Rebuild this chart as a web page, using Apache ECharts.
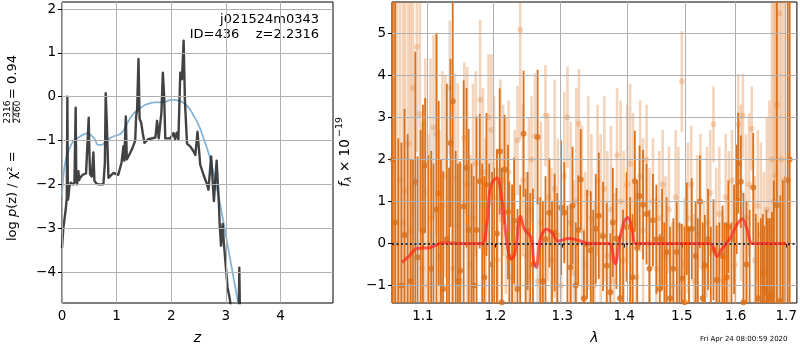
<!DOCTYPE html>
<html>
<head>
<meta charset="utf-8">
<script src="https://cdn.jsdelivr.net/npm/echarts@6/dist/echarts.min.js"></script>
<style>
  html, body { margin: 0; padding: 0; background: #fff; }
  #chart { width: 800px; height: 350px; }
</style>
</head>
<body>
<div id="chart"></div>
<script>
// p(z) panel: fine-grid log p(z) (dark) and smoothed prior curve (blue)
var pzZ = [0, 0.024, 0.07, 0.088, 0.098, 0.108, 0.116, 0.135, 0.16, 0.19,
  0.208, 0.228, 0.25, 0.262, 0.275, 0.30, 0.315, 0.33, 0.38, 0.44,
  0.475, 0.489, 0.50, 0.514, 0.545, 0.565, 0.575, 0.593, 0.63, 0.667,
  0.758, 0.785, 0.80, 0.82, 0.85, 0.94, 1.03, 1.09, 1.125, 1.14,
  1.168, 1.186, 1.24, 1.28, 1.34, 1.357, 1.375, 1.40, 1.42, 1.45,
  1.48, 1.51, 1.58, 1.71, 1.74, 1.77, 1.82, 1.846, 1.87, 1.89,
  1.98, 2.04, 2.07, 2.10, 2.13, 2.165, 2.196, 2.226, 2.25, 2.288,
  2.35, 2.41, 2.44, 2.48, 2.53, 2.59, 2.655, 2.68, 2.73, 2.78,
  2.83, 2.87, 2.886, 2.91, 2.94, 2.96, 2.99, 3.03, 3.07, 3.10,
  3.20, 3.235, 3.245, 3.26, 3.32];
var pzLogP = [-3.45, -3.0, -2.55, -2.3, 0.0, -2.35, -2.3, -2.05, -1.96, -1.95,
  -2.0, -1.95, -0.25, -1.9, -2.0, -1.7, -1.9, -1.85, -1.78, -1.75,
  -1.76, -0.48, -1.2, -1.77, -1.82, -1.85, -1.27, -1.92, -1.98, -2.0,
  -2.0, -1.5, 0.08, -0.6, -1.85, -1.74, -1.78, -1.5, -1.13, -1.46,
  -0.45, -1.43, -1.3, -1.2, -1.0, -0.45, -0.3, 0.86, -0.5, -0.6,
  -0.85, -1.05, -0.97, -0.93, -0.55, -0.95, -0.35, 0.55, 0.0, -0.95,
  -0.95, -0.83, -0.97, -0.82, -0.98, 0.55, 0.4, 1.28, -0.1, -1.07,
  -1.14, -1.25, -1.33, -0.8, -1.55, -1.78, -2.0, -2.12, -1.36, -2.38,
  -1.46, -2.4, -2.91, -3.4, -2.9, -3.3, -3.75, -4.35, -4.6, -4.9,
  -5.3, -5.0, -3.9, -5.2, -6.0];

var smZ = [0, 0.03, 0.06, 0.1, 0.15, 0.2, 0.3, 0.4, 0.47, 0.53,
  0.6, 0.66, 0.72, 0.8, 0.9, 1.0, 1.08, 1.15, 1.22, 1.3,
  1.4, 1.5, 1.6, 1.7, 1.8, 1.9, 2.0, 2.1, 2.2, 2.3,
  2.4, 2.5, 2.6, 2.7, 2.8, 2.9, 3.0, 3.1, 3.2, 3.26];
var smLogP = [-2.25, -1.75, -1.5, -1.3, -1.15, -1.03, -0.93, -0.86, -0.83, -0.88,
  -0.97, -1.1, -1.1, -1.03, -0.93, -0.88, -0.84, -0.72, -0.55, -0.4,
  -0.29, -0.2, -0.15, -0.13, -0.13, -0.11, -0.07, -0.08, -0.12, -0.22,
  -0.41, -0.64, -0.98, -1.36, -1.89, -2.49, -3.17, -3.86, -4.54, -4.95];

// spectrum panel: dark orange points (lam, flux, err)
var specLam = [1.061, 1.064, 1.068, 1.072, 1.076, 1.080, 1.084, 1.087, 1.090, 1.093,
  1.097, 1.100, 1.103, 1.107, 1.111, 1.114, 1.118, 1.121, 1.124, 1.127,
  1.132, 1.135, 1.137, 1.140, 1.144, 1.147, 1.150, 1.155, 1.159, 1.162,
  1.166, 1.169, 1.173, 1.1775, 1.181, 1.184, 1.187, 1.191, 1.195, 1.198,
  1.202, 1.206, 1.209, 1.213, 1.218, 1.220, 1.224, 1.227, 1.232, 1.236,
  1.241, 1.244, 1.247, 1.251, 1.255, 1.262, 1.266, 1.270, 1.274, 1.280,
  1.284, 1.288, 1.292, 1.298, 1.303, 1.308, 1.313, 1.316, 1.321, 1.325,
  1.329, 1.334, 1.339, 1.345, 1.349, 1.353, 1.358, 1.365, 1.371, 1.377,
  1.381, 1.387, 1.393, 1.398, 1.404, 1.410, 1.414, 1.418, 1.422, 1.426,
  1.432, 1.438, 1.443, 1.449, 1.455, 1.461, 1.465, 1.469, 1.473, 1.479,
  1.485, 1.491, 1.496, 1.500, 1.505, 1.509, 1.513, 1.518, 1.525, 1.529,
  1.533, 1.538, 1.542, 1.548, 1.553, 1.558, 1.564, 1.569, 1.575, 1.579,
  1.583, 1.586, 1.592, 1.597, 1.602, 1.605, 1.610, 1.615, 1.621, 1.627,
  1.634, 1.639, 1.644, 1.649, 1.653, 1.656, 1.660, 1.663, 1.667, 1.671,
  1.675, 1.681, 1.688, 1.693, 1.698, 1.703, 1.707];
var specFlux = [2.0, 0.5, -2.0, -1.0, 0.2, -1.6, -0.9, -2.0, 1.46, -0.33,
  -1.5, 0.3, 1.86, -1.9, -0.6, -2.0, 0.81, 1.19, -1.6, -1.08,
  0.1, -1.8, 2.39, 3.38, -1.7, -0.9, -0.65, 0.88, 1.8, 0.32,
  -1.7, -1.0, 0.32, 1.48, -1.5, -0.8, 1.4, -1.7, -0.5, -1.6,
  0.24, 2.19, -1.4, 1.76, 0.75, -0.33, -1.6, 0.54, -1.08, -1.8,
  2.61, -1.5, 0.3, -1.7, -0.5, 2.53, -1.6, -0.9, 0.1, 0.73,
  -1.5, 0.26, -1.7, 0.85, 0.73, -1.6, -0.57, 0.9, -1.0, 0.32,
  1.52, -1.3, -0.02, -0.16, -1.6, 0.35, 0.66, 0.17, -0.53, -1.16,
  0.5, 0.12, -1.3, -1.6, 0.39, -1.5, -0.8, 1.48, -0.1, 1.13,
  0.92, 0.7, -0.6, 0.55, 0.1, -1.08, 0.1, -1.6, -0.2, -1.3,
  -0.6, -0.2, -1.5, -0.83, -1.4, 0.35, -1.6, 0.35, -0.3, -1.5,
  1.0, -1.3, -0.52, 0.1, -1.6, -0.15, -0.87, -1.5, -0.3, -1.7,
  -0.8, 0.4, -1.5, 0.1, 1.05, 1.91, 1.47, -1.4, -0.5, -1.6,
  1.33, -1.5, -1.3, -1.7, -0.7, -1.08, -1.8, -1.2, -1.3, -1.25,
  -2.0, 0.91, -1.36, -1.5, -1.8, 1.5, 2.0];
var specErr = [9, 9, 4.5, 3.4, 3.0, 4.2, 2.9, 4.0, 3.1, 2.4,
  4.2, 3.0, 1.6, 4.0, 2.8, 3.9, 4.2, 2.2, 3.6, 2.8,
  3.7, 3.6, 2.0, 9, 3.9, 2.8, 2.6, 3.0, 1.9, 2.4,
  3.6, 2.6, 2.7, 1.6, 3.4, 2.4, 1.7, 3.6, 2.2, 3.4,
  2.0, 1.5, 3.2, 1.3, 1.6, 1.8, 3.0, 1.5, 1.9, 3.2,
  1.5, 2.8, 1.4, 2.9, 1.8, 1.6, 2.7, 1.9, 1.5, 1.3,
  2.5, 1.4, 2.9, 1.6, 1.2, 2.5, 1.5, 1.4, 1.5, 1.3,
  1.2, 1.6, 1.3, 1.4, 2.4, 1.3, 1.5, 1.3, 1.5, 1.4,
  1.3, 1.2, 1.5, 2.4, 1.3, 2.6, 1.5, 1.2, 1.6, 1.2,
  1.3, 1.2, 1.4, 1.1, 1.3, 1.3, 1.2, 2.1, 1.3, 1.7,
  1.2, 1.2, 2.0, 1.3, 1.8, 1.1, 2.0, 1.2, 1.3, 2.1,
  1.1, 1.8, 1.2, 1.2, 2.0, 1.2, 1.3, 2.0, 1.2, 2.2,
  1.3, 1.1, 2.0, 1.3, 1.3, 1.2, 1.1, 2.6, 1.5, 2.4,
  1.3, 2.2, 1.8, 2.3, 1.4, 1.5, 2.6, 1.8, 1.9, 2.0,
  3.5, 9, 2.5, 3.0, 3.4, 9, 9];

// spectrum panel: light orange points (second set)
var spec2Lam = [1.062, 1.066, 1.070, 1.074, 1.077, 1.081, 1.084, 1.087, 1.092, 1.096,
  1.099, 1.103, 1.107, 1.110, 1.114, 1.118, 1.122, 1.126, 1.130, 1.136,
  1.139, 1.143, 1.147, 1.151, 1.156, 1.160, 1.164, 1.168, 1.172, 1.178,
  1.182, 1.186, 1.190, 1.194, 1.198, 1.203, 1.207, 1.211, 1.215, 1.219,
  1.224, 1.228, 1.232, 1.236, 1.240, 1.245, 1.249, 1.253, 1.258, 1.262,
  1.267, 1.274, 1.278, 1.283, 1.288, 1.293, 1.298, 1.303, 1.308, 1.313,
  1.318, 1.322, 1.326, 1.331, 1.336, 1.341, 1.346, 1.351, 1.356, 1.361,
  1.367, 1.372, 1.378, 1.383, 1.388, 1.394, 1.399, 1.405, 1.410, 1.415,
  1.421, 1.427, 1.432, 1.438, 1.443, 1.449, 1.455, 1.460, 1.466, 1.471,
  1.477, 1.483, 1.489, 1.494, 1.500, 1.505, 1.511, 1.517, 1.522, 1.528,
  1.534, 1.540, 1.546, 1.552, 1.558, 1.563, 1.569, 1.575, 1.581, 1.587,
  1.593, 1.599, 1.605, 1.610, 1.614, 1.620, 1.626, 1.631, 1.637, 1.643,
  1.649, 1.655, 1.661, 1.666, 1.671, 1.675, 1.678, 1.681, 1.686, 1.690,
  1.695];
var spec2Flux = [1.0, 0.0, 1.5, 0.5, 1.25, 2.38, 0.3, 3.7, 4.67, 3.08,
  -0.6, 1.2, -1.0, 0.6, 2.76, 2.6, -0.3, 0.9, 1.6, 3.7,
  -0.6, 1.55, 0.4, -0.9, 2.51, 1.4, -0.5, 0.6, 1.9, 3.42,
  1.7, -0.1, 3.0, 2.7, 1.1, -0.4, 2.2, 1.5, 0.9, 1.7,
  -0.8, 0.4, 2.45, 5.08, 1.5, -0.3, 0.8, 2.0, 2.55, -0.9,
  0.5, 3.04, 1.1, -0.4, 1.3, 0.2, -1.0, 1.6, 3.0, 0.5,
  -0.7, 1.0, 2.85, 0.3, -0.5, 1.2, 0.6, -1.0, 1.5, 0.2,
  1.3, -0.3, 0.8, -0.9, 2.1, 1.0, -0.4, 1.4, 1.9, 0.5,
  -0.8, 1.6, 0.3, 2.0, 0.0, 1.0, -0.6, 0.6, 1.4, -0.3,
  0.8, -1.0, 1.1, 0.4, 3.85, -0.5, 0.6, 1.4, -0.9, 0.2,
  1.0, -0.6, 0.5, 1.2, 2.83, -0.2, 0.7, -0.9, 1.1, 0.3,
  1.5, -0.5, 2.83, 1.2, 3.04, 0.6, 1.4, 2.73, -0.4, 0.9,
  0.2, -0.6, 0.8, 0.4, 2.0, 1.0, 1.62, 3.3, 5.47, 2.0,
  1.5];
var spec2Err = [9, 9, 9, 6, 5.5, 4, 6, 3, 2.5, 2.8,
  3.5, 3.2, 3.6, 3.8, 2.2, 2.4, 3.0, 3.2, 2.4, 1.6,
  3.1, 2.5, 3.4, 2.8, 1.8, 2.8, 2.6, 3.2, 2.2, 1.9,
  2.0, 2.6, 1.5, 1.8, 2.4, 2.2, 1.7, 1.8, 2.1, 1.7,
  2.1, 2.3, 1.3, 2.6, 1.8, 2.0, 2.2, 1.5, 1.5, 2.0,
  2.4, 1.2, 2.0, 2.2, 2.6, 2.3, 2.0, 2.0, 1.2, 2.4,
  2.2, 2.7, 1.3, 2.5, 2.2, 2.3, 2.0, 2.0, 1.8, 2.4,
  2.2, 2.5, 2.0, 2.1, 1.6, 2.4, 2.6, 1.9, 1.9, 2.6,
  2.0, 1.8, 2.2, 1.3, 1.8, 1.5, 1.7, 1.6, 1.3, 1.9,
  1.5, 1.5, 1.6, 1.9, 1.2, 1.6, 1.8, 1.4, 1.6, 1.9,
  1.6, 1.6, 1.8, 1.5, 0.9, 2.0, 1.6, 1.7, 1.5, 1.9,
  1.2, 1.8, 1.2, 2.1, 1.0, 2.0, 1.7, 1.0, 2.0, 1.8,
  2.2, 2.3, 2.2, 3.0, 3.8, 6, 9, 9, 9, 9,
  9];

// best-fit model (red)
var modelLam = [1.0727, 1.082, 1.092, 1.1095, 1.1267, 1.15, 1.17, 1.181, 1.188, 1.193,
  1.202, 1.209, 1.2165, 1.2225, 1.228, 1.2365, 1.242, 1.252, 1.2565, 1.260,
  1.266, 1.2755, 1.284, 1.293, 1.31, 1.326, 1.342, 1.36, 1.375, 1.385,
  1.392, 1.4005, 1.406, 1.414, 1.4196, 1.45, 1.5, 1.552, 1.5645, 1.574,
  1.590, 1.603, 1.613, 1.622, 1.632, 1.66, 1.6995];
var modelFlux = [-0.45, -0.3, -0.12, -0.1, 0.02, 0.0, 0.0, 0.0, 0.54, 1.37,
  1.56, 1.05, 0.02, -0.37, -0.25, 0.65, 0.34, 0.14, -0.45, -0.57,
  0.1, 0.34, 0.26, 0.06, 0.12, 0.07, 0.0, 0.0, 0.0, -0.49,
  0.08, 0.54, 0.62, 0.3, 0.0, 0.0, 0.0, 0.0, -0.31, -0.13,
  0.14, 0.46, 0.58, 0.34, 0.0, 0.0, 0.0];

// tick labels
var zTicks = [0, 1, 2, 3, 4];
var logpTicks = [-4, -3, -2, -1, 0, 1, 2];
var lamTicks = [1.1, 1.2, 1.3, 1.4, 1.5, 1.6, 1.7];
var fluxTicks = [-1, 0, 1, 2, 3, 4, 5];

var FONT = 'DejaVu Sans';
var DARK = '#d9711c';
var LIGHT = 'rgba(217,113,28,0.3)';
var GRIDC = '#b0b0b0';

function minus(v) {
  return v < 0 ? '\u2212' + Math.abs(v) : String(v);
}
function zip(a, b, c) {
  return a.map(function (v, i) { return c ? [Math.log(v), b[i], c[i]] : [v, b[i]]; });
}

var lnTicks = lamTicks.map(function (v) { return Math.log(v); });

function errBars(width, color) {
  return function (params, api) {
    var x = api.value(0), f = api.value(1), e = api.value(2);
    var top = api.coord([x, f + e]);
    var bot = api.coord([x, f - e]);
    var cs = params.coordSys;
    var y1 = Math.max(top[1], cs.y);
    var y2 = Math.min(bot[1], cs.y + cs.height);
    if (y2 <= y1) return null;
    return {
      type: 'rect',
      shape: { x: top[0] - width / 2, y: y1, width: width, height: y2 - y1 },
      style: { fill: color }
    };
  };
}

function gridLines(xs, ys, color) {
  var d = [];
  xs.forEach(function (v) { d.push({ xAxis: v }); });
  ys.forEach(function (v) { d.push({ yAxis: v }); });
  return {
    silent: true, symbol: ['none', 'none'], animation: false,
    label: { show: false },
    lineStyle: { color: color, width: 1, type: 'solid' },
    data: d
  };
}

var axisText = { fontSize: 13.5, color: '#000', fontFamily: FONT };

var chart = echarts.init(document.getElementById('chart'), null, { renderer: 'canvas' });

var option = {
  animation: false,
  backgroundColor: '#fff',
  grid: [
    { left: 62, top: 2, width: 271, height: 302, show: true, borderColor: '#000', borderWidth: 1, backgroundColor: 'transparent' },
    { left: 392, top: 2, width: 406, height: 302, show: true, borderColor: '#000', borderWidth: 1, backgroundColor: 'transparent' }
  ],
  xAxis: [
    {
      gridIndex: 0, type: 'value', min: 0, max: 4.96,
      axisLine: { show: false },
      axisTick: { show: true, customValues: zTicks, length: 4, lineStyle: { color: '#000' } },
      axisLabel: Object.assign({ customValues: zTicks, formatter: minus, margin: 6 }, axisText),
      splitLine: { show: false },
      name: 'z', nameLocation: 'middle', nameGap: 28,
      nameTextStyle: { fontSize: 14, fontStyle: 'italic', color: '#000', fontFamily: FONT }
    },
    {
      gridIndex: 1, type: 'value', min: Math.log(1.06), max: Math.log(1.7218),
      axisLine: { show: false },
      axisTick: { show: true, customValues: lnTicks, length: 4, lineStyle: { color: '#000' } },
      axisLabel: Object.assign({
        customValues: lnTicks, margin: 6,
        formatter: function (v) { return Math.exp(v).toFixed(1); }
      }, axisText),
      splitLine: { show: false },
      name: '\u03bb', nameLocation: 'middle', nameGap: 28,
      nameTextStyle: { fontSize: 14, fontStyle: 'italic', color: '#000', fontFamily: FONT }
    }
  ],
  yAxis: [
    {
      gridIndex: 0, type: 'value', min: -4.705, max: 2.16,
      axisLine: { show: false },
      axisTick: { show: true, customValues: logpTicks, length: 4, lineStyle: { color: '#000' } },
      axisLabel: Object.assign({ customValues: logpTicks, formatter: minus, margin: 6 }, axisText),
      splitLine: { show: false }
    },
    {
      gridIndex: 1, type: 'value', min: -1.415, max: 5.742,
      axisLine: { show: false },
      axisTick: { show: true, customValues: fluxTicks, length: 4, lineStyle: { color: '#000' } },
      axisLabel: Object.assign({ customValues: fluxTicks, formatter: minus, margin: 6 }, axisText),
      splitLine: { show: false }
    }
  ],
  series: [
    // left panel grid (under the curves)
    {
      type: 'line', xAxisIndex: 0, yAxisIndex: 0, data: [], z: 1,
      markLine: gridLines(zTicks, logpTicks, GRIDC)
    },
    {
      type: 'line', xAxisIndex: 0, yAxisIndex: 0, z: 2,
      data: zip(smZ, smLogP), smooth: 0.4, showSymbol: false,
      lineStyle: { color: '#85b4d9', width: 1.8 }
    },
    {
      type: 'line', xAxisIndex: 0, yAxisIndex: 0, z: 3,
      data: zip(pzZ, pzLogP), showSymbol: false,
      lineStyle: { color: 'rgba(40,40,40,0.88)', width: 2.4, join: 'round' }
    },
    // right panel
    {
      type: 'custom', xAxisIndex: 1, yAxisIndex: 1, z: 2,
      data: zip(spec2Lam, spec2Flux, spec2Err), encode: { x: 0, y: 1 },
      renderItem: errBars(2.6, LIGHT)
    },
    {
      type: 'scatter', xAxisIndex: 1, yAxisIndex: 1, z: 2,
      data: zip(spec2Lam, spec2Flux, spec2Err), symbolSize: 6,
      itemStyle: { color: LIGHT }
    },
    {
      type: 'custom', xAxisIndex: 1, yAxisIndex: 1, z: 3,
      data: zip(specLam, specFlux, specErr), encode: { x: 0, y: 1 },
      renderItem: errBars(1.8, DARK)
    },
    {
      type: 'scatter', xAxisIndex: 1, yAxisIndex: 1, z: 3,
      data: zip(specLam, specFlux, specErr), symbolSize: 6,
      itemStyle: { color: DARK }
    },
    {
      type: 'line', xAxisIndex: 1, yAxisIndex: 1, data: [], z: 4,
      markLine: gridLines(lnTicks, fluxTicks, GRIDC)
    },
    {
      type: 'line', xAxisIndex: 1, yAxisIndex: 1, data: [], z: 5,
      markLine: {
        silent: true, symbol: ['none', 'none'], animation: false,
        label: { show: false },
        lineStyle: { color: '#000', width: 1.6, type: [2, 2.5] },
        data: [{ yAxis: 0 }]
      }
    },
    {
      type: 'line', xAxisIndex: 1, yAxisIndex: 1, z: 6,
      data: modelLam.map(function (v, i) { return [Math.log(v), modelFlux[i]]; }),
      smooth: 0.35, showSymbol: false,
      lineStyle: { color: 'rgba(255,35,30,0.7)', width: 3 }
    }
  ],
  graphic: [
    {
      type: 'text', right: 481, top: 13,
      style: { text: 'j021524m0343', font: '13px "DejaVu Sans"', fill: '#000', textAlign: 'right' }
    },
    {
      type: 'text', right: 481, top: 28,
      style: { text: 'ID=436    z=2.2316', font: '13px "DejaVu Sans"', fill: '#000', textAlign: 'right' }
    },
    {
      type: 'group', x: 13, y: 241, rotation: Math.PI / 2,
      children: [
        {
          type: 'text', x: 0, y: 0,
          style: {
            text: '{a|log }{b|p}{a|(z) / \u03c7\u00b2 =}',
            rich: {
              a: { fontSize: 13, fontFamily: FONT, fill: '#000' },
              b: { fontSize: 13, fontFamily: FONT, fontStyle: 'italic', fill: '#000' }
            },
            verticalAlign: 'middle', align: 'left'
          }
        },
        {
          type: 'text', x: 129, y: -5,
          style: { text: '2316', font: '9px "DejaVu Sans"', fill: '#000', align: 'center', verticalAlign: 'middle' }
        },
        {
          type: 'line', shape: { x1: 119, y1: 0, x2: 139, y2: 0 },
          style: { stroke: '#000', lineWidth: 0.8 }
        },
        {
          type: 'text', x: 129, y: 5,
          style: { text: '2460', font: '9px "DejaVu Sans"', fill: '#000', align: 'center', verticalAlign: 'middle' }
        },
        {
          type: 'text', x: 142, y: 0,
          style: { text: '= 0.94', font: '13px "DejaVu Sans"', fill: '#000', align: 'left', verticalAlign: 'middle' }
        }
      ]
    },
    {
      type: 'group', x: 345, y: 187, rotation: Math.PI / 2,
      children: [
        {
          type: 'text', x: 0, y: 0,
          style: { text: 'f', font: 'italic 13.5px "DejaVu Sans"', fill: '#000', align: 'left', verticalAlign: 'middle' }
        },
        {
          type: 'text', x: 5, y: 4,
          style: { text: '\u03bb', font: 'italic 9.5px "DejaVu Sans"', fill: '#000', align: 'left', verticalAlign: 'middle' }
        },
        {
          type: 'text', x: 15, y: 0,
          style: { text: '\u00d7 10', font: '13.5px "DejaVu Sans"', fill: '#000', align: 'left', verticalAlign: 'middle' }
        },
        {
          type: 'text', x: 50, y: -5,
          style: { text: '\u221219', font: '9.5px "DejaVu Sans"', fill: '#000', align: 'left', verticalAlign: 'middle' }
        }
      ]
    },
    {
      type: 'text', left: 700, top: 336,
      style: { text: 'Fri Apr 24 08:00:59 2020', font: '7px "DejaVu Sans"', fill: '#000' }
    }
  ]
};

chart.setOption(option);
</script>
</body>
</html>
